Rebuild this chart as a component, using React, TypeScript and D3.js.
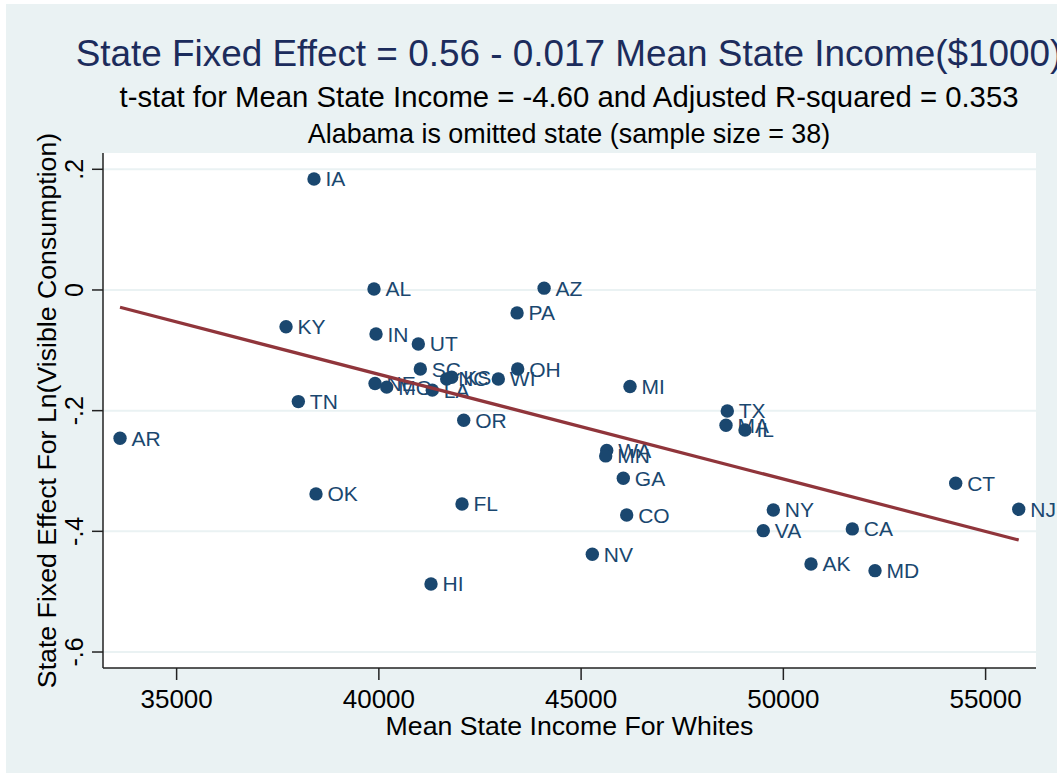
import React from 'react';
import * as d3 from 'd3';

const states = ['IA', 'AL', 'AZ', 'PA', 'KY', 'IN', 'UT', 'SC', 'OH', 'KS', 'NC', 'WI', 'NE', 'MO', 'LA', 'MI', 'TN', 'OR', 'TX', 'MA', 'IL', 'WA', 'MN', 'GA', 'CO', 'NY', 'AR', 'OK', 'FL', 'CT', 'NJ', 'VA', 'CA', 'NV', 'AK', 'MD', 'HI'];
const income = [38397, 39880, 44085, 43417, 37705, 39930, 40975, 41025, 43432, 41801, 41677, 42953, 39905, 40194, 41321, 46209, 38009, 42098, 48614, 48582, 49052, 45633, 45608, 46043, 46127, 49752, 33601, 38446, 42056, 54261, 55819, 49504, 51705, 45277, 50684, 52266, 41289];
const fixedEffect = [0.184, 0.0017, 0.003, -0.038, -0.061, -0.073, -0.0895, -0.131, -0.131, -0.1447, -0.1475, -0.1475, -0.155, -0.161, -0.166, -0.16, -0.185, -0.216, -0.2005, -0.2243, -0.232, -0.266, -0.275, -0.312, -0.373, -0.3646, -0.2458, -0.338, -0.3546, -0.3204, -0.3635, -0.3989, -0.396, -0.4381, -0.4541, -0.4652, -0.4872];

const xTicks = [35000, 40000, 45000, 50000, 55000];
const yTicks = [0.2, 0, -0.2, -0.4, -0.6];
const yTickLabels = ['.2', '0', '-.2', '-.4', '-.6'];

// fitted line
const fitIntercept = 0.5544;
const fitSlope = -0.000017355;

const title = 'State Fixed Effect = 0.56 - 0.017 Mean State Income($1000)';
const subtitle1 = 't-stat for Mean State Income = -4.60 and Adjusted R-squared = 0.353';
const subtitle2 = 'Alabama is omitted state (sample size = 38)';
const xTitle = 'Mean State Income For Whites';
const yTitle = 'State Fixed Effect For Ln(Visible Consumption)';

const W = 1057;
const H = 773;
const plot = { left: 103, right: 1036, top: 153, bottom: 668 };
const font = '"Liberation Sans", Arial, sans-serif';
const navy = '#1a476f';
const bg = '#eaf2f3';

const App = () => {
  const data = states.map((s, i) => ({ s, x: income[i], y: fixedEffect[i] }));

  const xScale = d3.scaleLinear()
    .domain([33180, 56246])
    .range([plot.left, plot.right]);
  const yScale = d3.scaleLinear()
    .domain([0.227, -0.6265])
    .range([plot.top, plot.bottom]);

  const [xMin, xMax] = d3.extent(income) as [number, number];
  const fitLine = d3.line<number>()
    .x((d) => xScale(d))
    .y((d) => yScale(fitIntercept + fitSlope * d))([xMin, xMax]) as string;

  const cx = (plot.left + plot.right) / 2;
  const cy = (plot.top + plot.bottom) / 2;

  return (
    <svg width={W} height={H} style={{ position: 'absolute', left: 0, top: 0 }} fontFamily={font}>
      <rect x={6} y={4} width={W - 6} height={H - 4} fill={bg} />
      <rect x={plot.left} y={plot.top} width={plot.right - plot.left} height={plot.bottom - plot.top} fill="#fff" />

      {yTicks.map((t) => (
        <line key={`g${t}`} x1={plot.left} x2={plot.right} y1={yScale(t)} y2={yScale(t)} stroke={bg} strokeWidth={2} />
      ))}

      <text x={569} y={66} textAnchor="middle" fontSize={36.9} fill="#1c2c5c">{title}</text>
      <text x={569} y={107} textAnchor="middle" fontSize={29.3} fill="#000">{subtitle1}</text>
      <text x={569} y={143} textAnchor="middle" fontSize={26.9} fill="#000">{subtitle2}</text>

      {/* y axis */}
      <line x1={plot.left} x2={plot.left} y1={plot.top} y2={plot.bottom} stroke="#222" strokeWidth={1.5} />
      {yTicks.map((t, i) => (
        <g key={`y${t}`} transform={`translate(0, ${yScale(t)})`}>
          <line x1={92} x2={plot.left} stroke="#222" strokeWidth={1.5} />
          <text transform="translate(83, 0) rotate(-90)" textAnchor="middle" fontSize={25}>{yTickLabels[i]}</text>
        </g>
      ))}
      <text transform={`translate(56, ${cy}) rotate(-90)`} textAnchor="middle" fontSize={26.7}>{yTitle}</text>

      {/* x axis */}
      <line x1={plot.left} x2={plot.right} y1={plot.bottom} y2={plot.bottom} stroke="#222" strokeWidth={1.5} />
      {xTicks.map((t) => (
        <g key={`x${t}`} transform={`translate(${xScale(t)}, 0)`}>
          <line y1={plot.bottom} y2={plot.bottom + 12} stroke="#222" strokeWidth={1.5} />
          <text y={708} textAnchor="middle" fontSize={26}>{t}</text>
        </g>
      ))}
      <text x={cx} y={735} textAnchor="middle" fontSize={26.7}>{xTitle}</text>

      {/* points and labels */}
      {data.map((d) => (
        <g key={d.s} transform={`translate(${xScale(d.x)}, ${yScale(d.y)})`}>
          <circle r={6.7} fill={navy} />
          <text x={11.5} y={7.5} fontSize={21} fill={navy}>{d.s}</text>
        </g>
      ))}

      <path d={fitLine} stroke="#90353b" strokeWidth={3.2} fill="none" />
    </svg>
  );
};

export default App;
